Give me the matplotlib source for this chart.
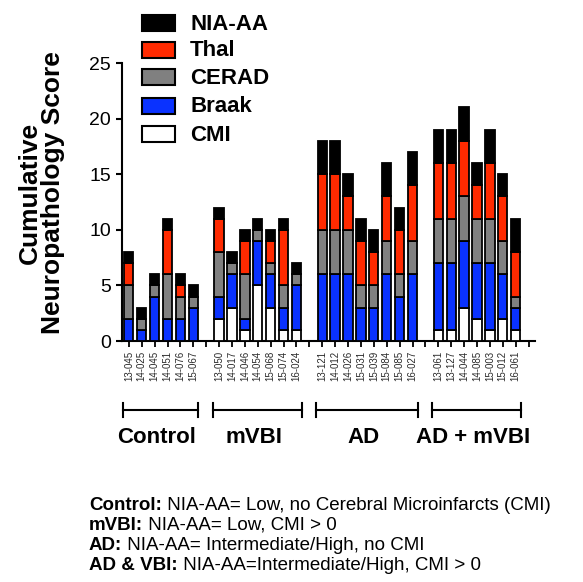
import matplotlib
matplotlib.use('Agg')
import matplotlib.pyplot as plt
from matplotlib.patches import Rectangle
from matplotlib.transforms import blended_transform_factory
import numpy as np

plt.rcParams['font.family'] = ['Liberation Sans', 'DejaVu Sans']

# ---- data ----
groups = ['Control', 'mVBI', 'AD', 'AD + mVBI']
group_cases = [
    ['13-045', '14-025', '14-045', '14-051', '14-076', '15-067'],
    ['13-050', '14-017', '14-046', '14-054', '15-068', '15-074', '16-024'],
    ['13-121', '14-012', '14-026', '15-031', '15-039', '15-084', '15-085', '16-027'],
    ['13-061', '13-127', '14-044', '14-085', '15-003', '15-012', '16-061'],
]
cmi   = [0, 0, 0, 0, 0, 0,  2, 3, 1, 5, 3, 1, 1,  0, 0, 0, 0, 0, 0, 0, 0,  1, 1, 3, 2, 1, 2, 1]
braak = [2, 1, 4, 2, 2, 3,  2, 3, 1, 4, 3, 2, 4,  6, 6, 6, 3, 3, 6, 4, 6,  6, 6, 6, 5, 6, 4, 2]
cerad = [3, 1, 1, 4, 2, 1,  4, 1, 4, 1, 1, 2, 1,  4, 4, 4, 2, 2, 3, 2, 3,  4, 4, 4, 4, 4, 3, 1]
thal  = [2, 0, 0, 4, 1, 0,  3, 0, 3, 0, 2, 5, 0,  5, 5, 3, 4, 3, 4, 4, 5,  5, 5, 5, 3, 5, 4, 4]
niaaa = [1, 1, 1, 1, 1, 1,  1, 1, 1, 1, 1, 1, 1,  3, 3, 2, 2, 2, 3, 2, 3,  3, 3, 3, 2, 3, 2, 3]

series_names = ['CMI', 'Braak', 'CERAD', 'Thal', 'NIA-AA']
series_vals = [cmi, braak, cerad, thal, niaaa]
series_colors = ['#ffffff', '#0a32ff', '#808080', '#ff2a00', '#000000']

notes_bold = ['Control:', 'mVBI:', 'AD:', 'AD & VBI:']
notes_text = [' NIA-AA= Low, no Cerebral Microinfarcts (CMI)',
              ' NIA-AA= Low, CMI > 0',
              ' NIA-AA= Intermediate/High, no CMI',
              ' NIA-AA=Intermediate/High, CMI > 0']

# ---- positions (one empty slot between groups) ----
positions = []
labels_all = []
group_spans = []
p = 0
for cases in group_cases:
    start = p
    for c in cases:
        positions.append(p)
        labels_all.append(c)
        p += 1
    group_spans.append((start, p - 1))
    p += 1
positions = np.array(positions)
nslots = p - 1

W, H = 583, 582
fig = plt.figure(figsize=(W / 100, H / 100), dpi=100)
ax = fig.add_axes([122 / W, 1 - 341 / H, (535 - 122) / W, 278 / H])

bottom = np.zeros(len(positions))
for name, vals, col in zip(series_names, series_vals, series_colors):
    v = np.array(vals, dtype=float)
    ax.bar(positions, v, bottom=bottom, width=0.72, color=col,
           edgecolor='black', linewidth=1.3, zorder=3)
    bottom += v

ax.set_ylim(0, 25)
ax.set_xlim(-0.53, nslots + 0.5)
ax.set_yticks([0, 5, 10, 15, 20, 25])
ax.tick_params(axis='y', labelsize=14, length=4, width=1.5, pad=4)
ticks = np.arange(0, nslots + 1)
tick_labels = [''] * len(ticks)
for pos, lab in zip(positions, labels_all):
    tick_labels[pos] = lab
ax.set_xticks(ticks)
ax.set_xticklabels(tick_labels, rotation=90, fontsize=7, color='#2a2a2a')
ax.tick_params(axis='x', length=4, width=1.3, pad=3)
for s in ['top', 'right']:
    ax.spines[s].set_visible(False)
for s in ['left', 'bottom']:
    ax.spines[s].set_linewidth(1.5)

# group brackets and labels
tr = blended_transform_factory(ax.transData, ax.transAxes)
yb = -0.248
cap = 0.026
for g, (s, e) in zip(groups, group_spans):
    x0, x1 = s - 0.45, e + 0.4
    ax.plot([x0, x1], [yb, yb], color='black', lw=1.5, transform=tr, clip_on=False)
    ax.plot([x0, x0], [yb - cap, yb + cap], color='black', lw=1.5, transform=tr, clip_on=False)
    ax.plot([x1, x1], [yb - cap, yb + cap], color='black', lw=1.5, transform=tr, clip_on=False)
    ax.text((x0 + x1) / 2 - 0.3, -0.367, g, transform=tr, ha='center', va='baseline',
            fontsize=16, fontweight='bold')

# y label
fig.text(41 / W, 1 - 193 / H, 'Cumulative\nNeuropathology Score', rotation=90,
         ha='center', va='center', multialignment='center', fontsize=19,
         fontweight='bold', linespacing=0.95)

# legend (manual)
row_y = [134, 106, 77, 50, 23]
for name, col, ry in zip(series_names, series_colors, row_y):
    fig.add_artist(Rectangle((142 / W, 1 - (ry + 8) / H), 33 / W, 16 / H,
                             transform=fig.transFigure, facecolor=col,
                             edgecolor='black', linewidth=1.5))
    fig.text(190 / W, 1 - (ry + 1) / H, name, ha='left', va='center', fontsize=16,
             fontweight='bold')

# notes
note_y = [505, 525, 545, 565]
for b, t, ny in zip(notes_bold, notes_text, note_y):
    bt = fig.text(89 / W, 1 - ny / H, b, ha='left', va='center', fontsize=13.5,
                  fontweight='bold')
    ax.annotate(t, xy=(1, 0), xycoords=bt, ha='left', va='bottom', fontsize=13.5,
                annotation_clip=False)

fig.savefig('out.png', dpi=100)
